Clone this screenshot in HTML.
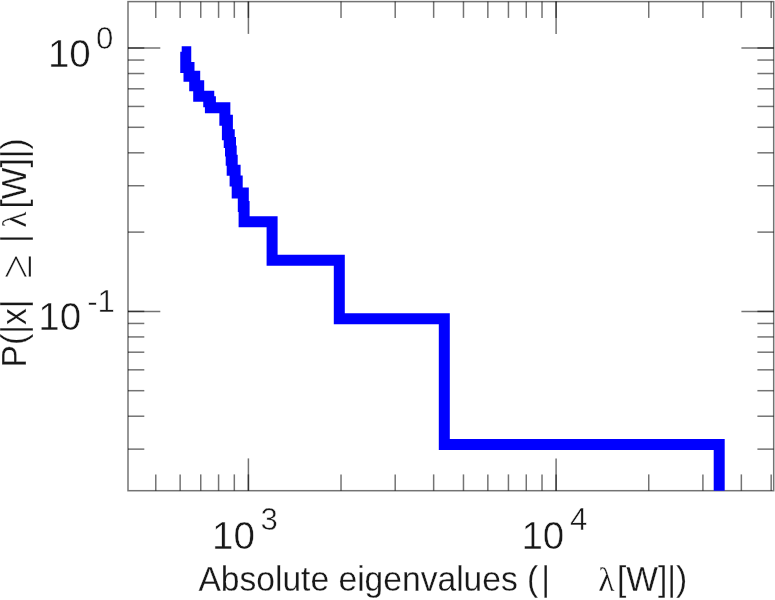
<!DOCTYPE html>
<html><head><meta charset="utf-8"><title>Absolute eigenvalues CCDF</title>
<style>
html,body{margin:0;padding:0;background:#fff;}
svg{display:block;filter:blur(0.45px);}
text{font-family:"Liberation Sans",sans-serif;fill:#181818;}
text{stroke:#fff;stroke-width:0.25px;}
text.t{stroke-width:0.5px;}
text.sym{font-family:"Liberation Serif",serif;}
</style></head><body>
<svg width="775" height="600" viewBox="0 0 775 600">
<rect width="775" height="600" fill="#fff"/>
<g stroke="#000" stroke-opacity="0.55" stroke-width="1.5" fill="none">
<rect x="128.0" y="1.6" width="645.70" height="489.10"/>
<line x1="248.40" y1="490.70" x2="248.40" y2="458.40"/>
<line x1="248.40" y1="1.60" x2="248.40" y2="33.90"/>
<line x1="556.10" y1="490.70" x2="556.10" y2="458.40"/>
<line x1="556.10" y1="1.60" x2="556.10" y2="33.90"/>
<line x1="155.77" y1="490.70" x2="155.77" y2="474.40"/>
<line x1="155.77" y1="1.60" x2="155.77" y2="17.90"/>
<line x1="180.14" y1="490.70" x2="180.14" y2="474.40"/>
<line x1="180.14" y1="1.60" x2="180.14" y2="17.90"/>
<line x1="200.74" y1="490.70" x2="200.74" y2="474.40"/>
<line x1="200.74" y1="1.60" x2="200.74" y2="17.90"/>
<line x1="218.58" y1="490.70" x2="218.58" y2="474.40"/>
<line x1="218.58" y1="1.60" x2="218.58" y2="17.90"/>
<line x1="234.32" y1="490.70" x2="234.32" y2="474.40"/>
<line x1="234.32" y1="1.60" x2="234.32" y2="17.90"/>
<line x1="248.40" y1="490.70" x2="248.40" y2="474.40"/>
<line x1="248.40" y1="1.60" x2="248.40" y2="17.90"/>
<line x1="341.03" y1="490.70" x2="341.03" y2="474.40"/>
<line x1="341.03" y1="1.60" x2="341.03" y2="17.90"/>
<line x1="395.21" y1="490.70" x2="395.21" y2="474.40"/>
<line x1="395.21" y1="1.60" x2="395.21" y2="17.90"/>
<line x1="433.65" y1="490.70" x2="433.65" y2="474.40"/>
<line x1="433.65" y1="1.60" x2="433.65" y2="17.90"/>
<line x1="463.47" y1="490.70" x2="463.47" y2="474.40"/>
<line x1="463.47" y1="1.60" x2="463.47" y2="17.90"/>
<line x1="487.84" y1="490.70" x2="487.84" y2="474.40"/>
<line x1="487.84" y1="1.60" x2="487.84" y2="17.90"/>
<line x1="508.44" y1="490.70" x2="508.44" y2="474.40"/>
<line x1="508.44" y1="1.60" x2="508.44" y2="17.90"/>
<line x1="526.28" y1="490.70" x2="526.28" y2="474.40"/>
<line x1="526.28" y1="1.60" x2="526.28" y2="17.90"/>
<line x1="542.02" y1="490.70" x2="542.02" y2="474.40"/>
<line x1="542.02" y1="1.60" x2="542.02" y2="17.90"/>
<line x1="556.10" y1="490.70" x2="556.10" y2="474.40"/>
<line x1="556.10" y1="1.60" x2="556.10" y2="17.90"/>
<line x1="648.73" y1="490.70" x2="648.73" y2="474.40"/>
<line x1="648.73" y1="1.60" x2="648.73" y2="17.90"/>
<line x1="702.91" y1="490.70" x2="702.91" y2="474.40"/>
<line x1="702.91" y1="1.60" x2="702.91" y2="17.90"/>
<line x1="741.35" y1="490.70" x2="741.35" y2="474.40"/>
<line x1="741.35" y1="1.60" x2="741.35" y2="17.90"/>
<line x1="771.17" y1="490.70" x2="771.17" y2="474.40"/>
<line x1="771.17" y1="1.60" x2="771.17" y2="17.90"/>
<line x1="128.00" y1="48.00" x2="160.30" y2="48.00"/>
<line x1="773.70" y1="48.00" x2="741.40" y2="48.00"/>
<line x1="128.00" y1="311.40" x2="160.30" y2="311.40"/>
<line x1="773.70" y1="311.40" x2="741.40" y2="311.40"/>
<line x1="128.00" y1="48.00" x2="144.30" y2="48.00"/>
<line x1="773.70" y1="48.00" x2="757.40" y2="48.00"/>
<line x1="128.00" y1="60.05" x2="144.30" y2="60.05"/>
<line x1="773.70" y1="60.05" x2="757.40" y2="60.05"/>
<line x1="128.00" y1="73.53" x2="144.30" y2="73.53"/>
<line x1="773.70" y1="73.53" x2="757.40" y2="73.53"/>
<line x1="128.00" y1="88.80" x2="144.30" y2="88.80"/>
<line x1="773.70" y1="88.80" x2="757.40" y2="88.80"/>
<line x1="128.00" y1="106.43" x2="144.30" y2="106.43"/>
<line x1="773.70" y1="106.43" x2="757.40" y2="106.43"/>
<line x1="128.00" y1="127.29" x2="144.30" y2="127.29"/>
<line x1="773.70" y1="127.29" x2="757.40" y2="127.29"/>
<line x1="128.00" y1="152.82" x2="144.30" y2="152.82"/>
<line x1="773.70" y1="152.82" x2="757.40" y2="152.82"/>
<line x1="128.00" y1="185.73" x2="144.30" y2="185.73"/>
<line x1="773.70" y1="185.73" x2="757.40" y2="185.73"/>
<line x1="128.00" y1="232.11" x2="144.30" y2="232.11"/>
<line x1="773.70" y1="232.11" x2="757.40" y2="232.11"/>
<line x1="128.00" y1="311.40" x2="144.30" y2="311.40"/>
<line x1="773.70" y1="311.40" x2="757.40" y2="311.40"/>
<line x1="128.00" y1="323.45" x2="144.30" y2="323.45"/>
<line x1="773.70" y1="323.45" x2="757.40" y2="323.45"/>
<line x1="128.00" y1="336.93" x2="144.30" y2="336.93"/>
<line x1="773.70" y1="336.93" x2="757.40" y2="336.93"/>
<line x1="128.00" y1="352.20" x2="144.30" y2="352.20"/>
<line x1="773.70" y1="352.20" x2="757.40" y2="352.20"/>
<line x1="128.00" y1="369.83" x2="144.30" y2="369.83"/>
<line x1="773.70" y1="369.83" x2="757.40" y2="369.83"/>
<line x1="128.00" y1="390.69" x2="144.30" y2="390.69"/>
<line x1="773.70" y1="390.69" x2="757.40" y2="390.69"/>
<line x1="128.00" y1="416.22" x2="144.30" y2="416.22"/>
<line x1="773.70" y1="416.22" x2="757.40" y2="416.22"/>
<line x1="128.00" y1="449.13" x2="144.30" y2="449.13"/>
<line x1="773.70" y1="449.13" x2="757.40" y2="449.13"/>
</g>
<path d="M181.7,51.63 H185.75 V67.44 H189 V76.24 H194.7 V85.78 H198.7 V96.18 H208.75 V101.77 H210.4 V107.63 H224.85 V120.36 H227.4 V134.67 H229.25 V142.57 H230.5 V151.04 H231.2 V160.20 H232.2 V170.15 H235.1 V181.06 H237.2 V193.11 H243.3 V206.58 H244.1 V221.86 H272.1 V260.35 H339.3 V318.78 H444.3 V444.46 H719.2 V490.70" fill="none" stroke="#0000ff" stroke-width="11" stroke-linejoin="miter" stroke-linecap="butt"/>
<g>
<text class="t" x="47.9" y="66.80000000000001" font-size="38.6">10</text><text class="t" x="96.0" y="48.8" font-size="31.2">0</text>
<text class="t" x="38.199999999999996" y="330.4" font-size="38.6">10</text><text class="t" x="87.2" y="311.5" font-size="31.2">-1</text>
<text class="t" x="212.1" y="548.6" font-size="38.6">10</text><text class="t" x="260.5" y="530.3" font-size="31.2">3</text>
<text class="t" x="521.4" y="548.6" font-size="38.6">10</text><text class="t" x="569.9000000000001" y="530.3" font-size="31.2">4</text>
<text transform="translate(198.4,590.7) scale(1,1.025)" font-size="33.6" >Absolute eigenvalues (</text>
<text transform="translate(541.3,590.7) scale(1,1.025)" font-size="33.6" >|</text>
<text transform="translate(598.3,590.7) scale(1,1.025)" font-size="33.6" class="sym">λ</text>
<text transform="translate(617.0,590.7) scale(1,1.025)" font-size="33.6" >[W]|)</text>
<text transform="translate(25.8,367.4) rotate(-90) scale(1,1.025)" font-size="33.6" >P(|x|</text>
<text transform="translate(30.5,278.5) rotate(-90) scale(1,1.025)" font-size="44" class="sym">≥</text>
<text transform="translate(25.8,242.9) rotate(-90) scale(1,1.025)" font-size="33.6" >|</text>
<text transform="translate(25.8,227.8) rotate(-90) scale(1,1.025)" font-size="33.6" class="sym">λ</text>
<text transform="translate(25.8,208.6) rotate(-90) scale(1,1.025)" font-size="33.6" >[W]|)</text>
</g>
</svg>
</body></html>
